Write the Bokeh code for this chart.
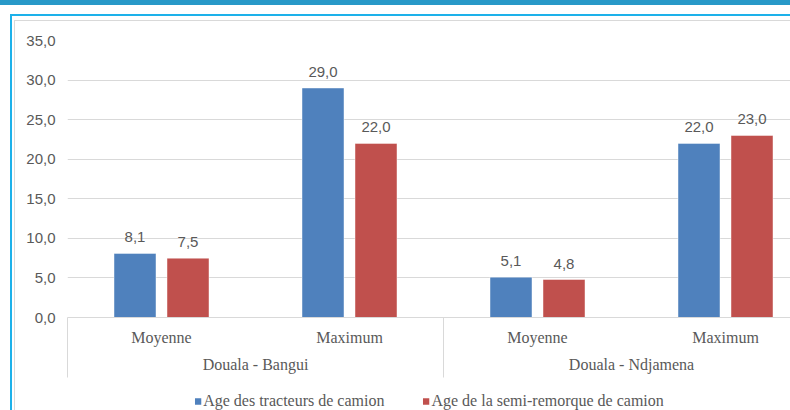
from bokeh.plotting import figure
from bokeh.layouts import column
from bokeh.models import (Range1d, ColumnDataSource, FixedTicker, Legend,
                          LegendItem, LinearAxis)
from bokeh.embed import file_html
from bokeh.resources import INLINE
from bokeh.core.properties import value

# ---- data ----
routes = ["Douala - Bangui", "Douala - Ndjamena"]
stats = ["Moyenne", "Maximum"]
tracteurs = [8.1, 29.0, 5.1, 22.0]
semi_remorques = [7.5, 22.0, 4.8, 23.0]
series_names = ["Age des tracteurs de camion", "Age de la semi-remorque de camion"]
y_ticks = [0, 5, 10, 15, 20, 25, 30, 35]
y_tick_labels = ["0,0", "5,0", "10,0", "15,0", "20,0", "25,0", "30,0", "35,0"]

def fmt(v):
    return f"{v:.1f}".replace(".", ",")

# category slots (one unit per category, grouped by route)
cat_labels = [s for r in routes for s in stats]
cat_pos = [i + 0.5 for i in range(len(cat_labels))]
group_pos = [len(stats) * g + len(stats) / 2 for g in range(len(routes))]
group_edges = [len(stats) * g for g in range(len(routes) + 1)]

BLUE = "#4F81BD"
RED = "#C0504D"
TXT = "#595959"
GRID = "#D9D9D9"

W, H = 790, 410
LEG_H = 27
H1 = H - LEG_H
LEFT, TOP, BOTTOM_Y = 67, 40, 317
cat_px = 188.0
visible = (W - LEFT) / cat_px
off = 26.5 / cat_px
bw = 42.0 / cat_px

src = ColumnDataSource(dict(
    x1=[c - off for c in cat_pos],
    x2=[c + off for c in cat_pos],
    tr=tracteurs,
    se=semi_remorques,
    tr_l=[fmt(v) for v in tracteurs],
    se_l=[fmt(v) for v in semi_remorques],
))

p = figure(width=W, height=H1, x_range=Range1d(0, visible), y_range=Range1d(0, 35),
           output_backend="svg", toolbar_location=None, x_axis_location=None,
           min_border_left=LEFT, min_border_right=0, min_border_top=TOP,
           min_border_bottom=H1 - BOTTOM_Y)
p.outline_line_color = None
p.background_fill_color = "white"
p.border_fill_color = None

r1 = p.vbar(x="x1", top="tr", width=bw, source=src,
            fill_color=BLUE, line_color="white", line_alpha=0.45, line_width=1)
r2 = p.vbar(x="x2", top="se", width=bw, source=src,
            fill_color=RED, line_color="white", line_alpha=0.45, line_width=1)

lab_kw = dict(text_align="center", text_baseline="middle", y_offset=-16,
              text_font=value("Liberation Sans"), text_font_size="15px", text_color=TXT)
p.text(x="x1", y="tr", text="tr_l", source=src, **lab_kw)
p.text(x="x2", y="se", text="se_l", source=src, **lab_kw)

# grid
p.xgrid.grid_line_color = None
p.ygrid.grid_line_color = GRID
p.ygrid.ticker = FixedTicker(ticks=y_ticks)

# y axis
ya = p.yaxis[0]
ya.ticker = FixedTicker(ticks=y_ticks)
ya.major_label_overrides = dict(zip(y_ticks, y_tick_labels))
ya.axis_line_color = None
ya.major_tick_line_color = None
ya.minor_tick_line_color = None
ya.major_tick_out = 0
ya.major_tick_in = 0
ya.major_label_standoff = 12
ya.major_label_text_font = "Liberation Sans"
ya.major_label_text_font_size = "15px"
ya.major_label_text_color = TXT

# x axis: category labels + group separators (minor ticks)
xa = LinearAxis(ticker=FixedTicker(ticks=cat_pos, minor_ticks=group_edges),
                major_label_overrides=dict(zip(cat_pos, cat_labels)))
xa.axis_line_color = GRID
xa.major_tick_line_color = None
xa.major_tick_out = 0
xa.major_tick_in = 0
xa.minor_tick_line_color = GRID
xa.minor_tick_out = 60
xa.minor_tick_in = 0
xa.major_label_standoff = -49
xa.major_label_text_font = "Liberation Serif"
xa.major_label_text_font_size = "16px"
xa.major_label_text_color = TXT
p.add_layout(xa, "below")

# x axis: route (group) labels
ga = LinearAxis(ticker=FixedTicker(ticks=group_pos),
                major_label_overrides=dict(zip(group_pos, routes)))
ga.axis_line_color = None
ga.major_tick_line_color = None
ga.minor_tick_line_color = None
ga.major_tick_out = 0
ga.major_tick_in = 0
ga.major_label_standoff = 7
ga.major_label_text_font = "Liberation Serif"
ga.major_label_text_font_size = "16px"
ga.major_label_text_color = TXT
p.add_layout(ga, "below")

# ---- legend strip (own small plot, legend inside its frame) ----
q = figure(width=W, height=LEG_H, x_range=Range1d(0, 1), y_range=Range1d(0, 1),
           output_backend="svg", toolbar_location=None,
           x_axis_location=None, y_axis_location=None,
           min_border_left=LEFT - 6, min_border_right=0, min_border_top=0, min_border_bottom=0)
q.outline_line_color = None
q.grid.visible = False
q.background_fill_color = None
q.border_fill_color = None
# swatch-only renderers (zero-height, draw nothing in the strip)
k1 = q.vbar(x=[0.5], top=[0], bottom=[0], width=0.1, fill_color=BLUE, line_color=None)
k2 = q.vbar(x=[0.5], top=[0], bottom=[0], width=0.1, fill_color=RED, line_color=None)
legend = Legend(items=[LegendItem(label=series_names[0], renderers=[k1]),
                       LegendItem(label=series_names[1], renderers=[k2])],
                orientation="horizontal", location="bottom_center",
                border_line_color=None, background_fill_alpha=0,
                glyph_width=8, glyph_height=8, label_standoff=2, spacing=37,
                label_text_font="Liberation Serif", label_text_font_size="16px",
                label_text_color=TXT, padding=0, margin=0)
q.add_layout(legend)

# page decoration (frame lines around the chart) painted behind both plots
bg = ", ".join([
    "linear-gradient(#2899C8,#2899C8) 0px 0px/100% 5px no-repeat",
    "linear-gradient(#1DB1EA,#1DB1EA) 10px 14px/100% 2px no-repeat",
    "linear-gradient(#1DB1EA,#1DB1EA) 10px 14px/2px 100% no-repeat",
    "linear-gradient(#D9D9D9,#D9D9D9) 14px 20px/100% 1px no-repeat",
    "linear-gradient(#D9D9D9,#D9D9D9) 14px 20px/1px 100% no-repeat",
    "#ffffff",
])
layout = column(p, q, spacing=0, styles={"background": bg})

open("out.html", "w").write(file_html(layout, INLINE))
